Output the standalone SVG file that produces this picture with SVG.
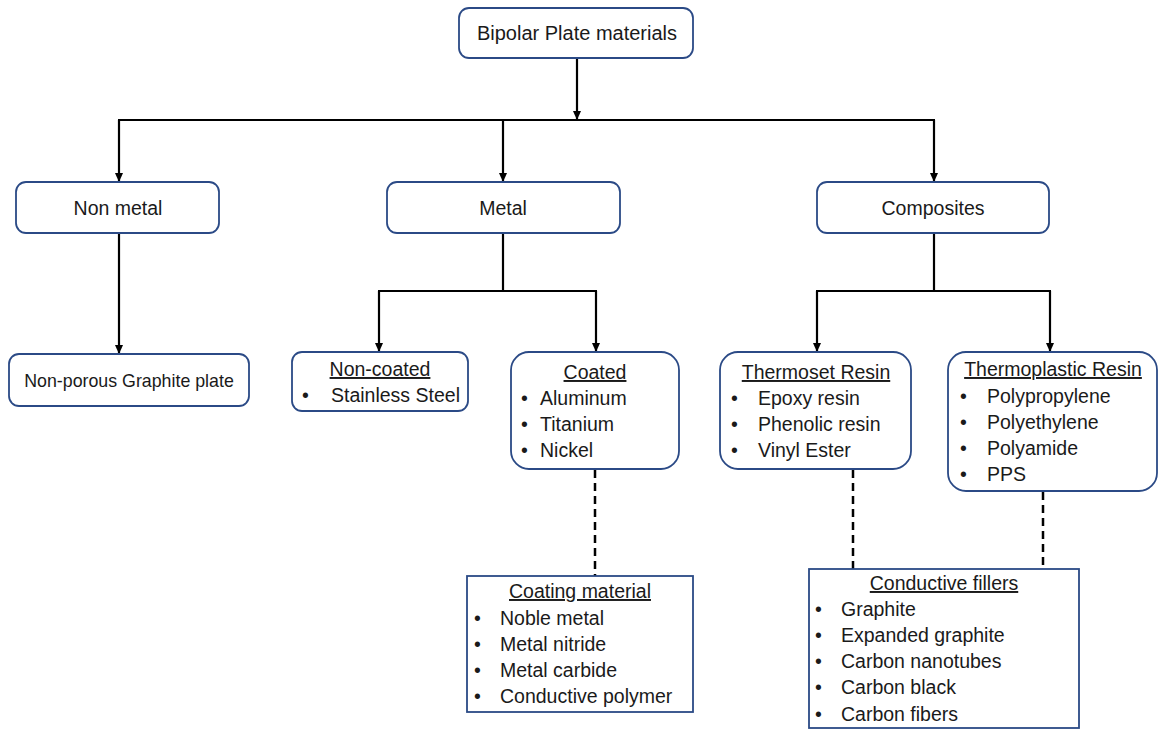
<svg xmlns="http://www.w3.org/2000/svg" width="1158" height="730" viewBox="0 0 1158 730">
<defs>
<marker id="ah" markerWidth="10" markerHeight="10" refX="8" refY="5" orient="auto" markerUnits="userSpaceOnUse">
<path d="M0,1 L9,5 L0,9 Z" fill="#000"/>
</marker>
<style>
.box{fill:#fff;stroke:#2B4A86;stroke-width:1.8}
.t{font-family:"Liberation Sans",Arial,sans-serif;font-size:19.5px;fill:#1a1a1a}
.c{text-anchor:middle}
.u{text-decoration:underline}
.ln{fill:none;stroke:#000;stroke-width:2.2}
.ar{fill:none;stroke:#000;stroke-width:2.2;marker-end:url(#ah)}
.ds{fill:none;stroke:#000;stroke-width:2.5;stroke-dasharray:8,5}
</style>
</defs>
<rect width="1158" height="730" fill="#fff"/>
<g id="connectors">
<path class="ar" d="M577,58 V119"/>
<path class="ln" d="M118,120 H935"/>
<path class="ar" d="M119,120 V181"/>
<path class="ar" d="M503,120 V181"/>
<path class="ar" d="M934,120 V181"/>
<path class="ar" d="M119,234 V353"/>
<path class="ln" d="M503,234 V291"/>
<path class="ln" d="M378,291 H597"/>
<path class="ar" d="M379,291 V351"/>
<path class="ar" d="M596,291 V351"/>
<path class="ln" d="M934,234 V291"/>
<path class="ln" d="M816,291 H1051"/>
<path class="ar" d="M817,291 V351"/>
<path class="ar" d="M1050,291 V351"/>
<path class="ds" d="M595,470 V576"/>
<path class="ds" d="M853,470 V569"/>
<path class="ds" d="M1043,492 V569"/>
</g>
<g id="root">
<rect class="box" x="459" y="8" width="234" height="50" rx="10"/>
<text class="t c" x="577" y="40" style="font-size:20px">Bipolar Plate materials</text>
</g>
<g id="nonmetal">
<rect class="box" x="16" y="182" width="203" height="51" rx="10"/>
<text class="t c" x="118" y="215">Non metal</text>
</g>
<g id="metal">
<rect class="box" x="387" y="182" width="233" height="51" rx="10"/>
<text class="t c" x="503" y="215">Metal</text>
</g>
<g id="composites">
<rect class="box" x="817" y="182" width="232" height="51" rx="10"/>
<text class="t c" x="933" y="215">Composites</text>
</g>
<g id="graphite">
<rect class="box" x="9" y="354" width="240" height="52" rx="10"/>
<text class="t c" x="129" y="387" style="font-size:17.8px">Non-porous Graphite plate</text>
</g>
<g id="noncoated">
<rect class="box" x="292" y="352" width="176" height="59" rx="10"/>
<text class="t c u" x="380" y="376">Non-coated</text>
<text class="t" x="302" y="402">•</text>
<text class="t" x="331" y="402">Stainless Steel</text>
</g>
<g id="coated">
<rect class="box" x="511" y="352" width="168" height="117" rx="18"/>
<text class="t c u" x="595" y="379">Coated</text>
<text class="t" x="521" y="405">•</text><text class="t" x="540" y="405">Aluminum</text>
<text class="t" x="521" y="431">•</text><text class="t" x="540" y="431">Titanium</text>
<text class="t" x="521" y="457">•</text><text class="t" x="540" y="457">Nickel</text>
</g>
<g id="thermoset">
<rect class="box" x="720" y="352" width="191" height="117" rx="18"/>
<text class="t c u" x="816" y="379">Thermoset Resin</text>
<text class="t" x="731" y="405">•</text><text class="t" x="758" y="405">Epoxy resin</text>
<text class="t" x="731" y="431">•</text><text class="t" x="758" y="431">Phenolic resin</text>
<text class="t" x="731" y="457">•</text><text class="t" x="758" y="457">Vinyl Ester</text>
</g>
<g id="thermoplastic">
<rect class="box" x="948" y="352" width="209" height="139" rx="18"/>
<text class="t c u" x="1053" y="376">Thermoplastic Resin</text>
<text class="t" x="960" y="403">•</text><text class="t" x="987" y="403">Polypropylene</text>
<text class="t" x="960" y="429">•</text><text class="t" x="987" y="429">Polyethylene</text>
<text class="t" x="960" y="455">•</text><text class="t" x="987" y="455">Polyamide</text>
<text class="t" x="960" y="481">•</text><text class="t" x="987" y="481">PPS</text>
</g>
<g id="coating">
<rect class="box" x="467" y="576" width="226" height="136"/>
<text class="t c u" x="580" y="598">Coating material</text>
<text class="t" x="474" y="625">•</text><text class="t" x="500" y="625">Noble metal</text>
<text class="t" x="474" y="651">•</text><text class="t" x="500" y="651">Metal nitride</text>
<text class="t" x="474" y="677">•</text><text class="t" x="500" y="677">Metal carbide</text>
<text class="t" x="474" y="703">•</text><text class="t" x="500" y="703">Conductive polymer</text>
</g>
<g id="fillers">
<rect class="box" x="809" y="569" width="270" height="159"/>
<text class="t c u" x="944" y="590">Conductive fillers</text>
<text class="t" x="815" y="616">•</text><text class="t" x="841" y="616">Graphite</text>
<text class="t" x="815" y="642">•</text><text class="t" x="841" y="642">Expanded graphite</text>
<text class="t" x="815" y="668">•</text><text class="t" x="841" y="668">Carbon nanotubes</text>
<text class="t" x="815" y="694">•</text><text class="t" x="841" y="694">Carbon black</text>
<text class="t" x="815" y="721">•</text><text class="t" x="841" y="721">Carbon fibers</text>
</g>
</svg>
